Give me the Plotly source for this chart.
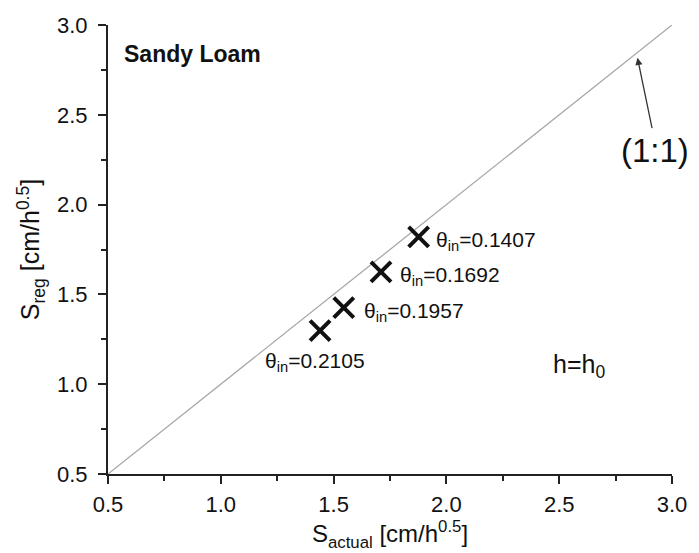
import plotly.graph_objects as go

# Sorptivity: actual vs. regression estimate, sandy loam, h = h0
s_actual = [1.877, 1.71, 1.545, 1.44]
s_reg = [1.82, 1.625, 1.426, 1.298]
theta_in = ["0.1407", "0.1692", "0.1957", "0.2105"]

# label placement (pixel offsets from each marker)
label_xshift = [15, 17, 18, -5]
label_yshift = [0, 0, 0, -27]
label_xanchor = ["left", "left", "left", "center"]

one_to_one = [0.5, 3.0]

FONT = "Liberation Sans, Arial, sans-serif"
INK = "#111111"
AXIS = "#222222"

fig = go.Figure()

fig.add_trace(go.Scatter(
    x=one_to_one, y=one_to_one, mode="lines",
    line=dict(color="#a8a8a8", width=1.3),
    hoverinfo="skip", showlegend=False,
))

fig.add_trace(go.Scatter(
    x=s_actual, y=s_reg, mode="markers",
    marker=dict(symbol="x-thin", size=20,
                line=dict(color=INK, width=4)),
    showlegend=False,
))

annotations = []
for xa, yr, th, dx, dy, anc in zip(s_actual, s_reg, theta_in,
                                    label_xshift, label_yshift, label_xanchor):
    annotations.append(dict(
        x=xa, y=yr, xref="x", yref="y", showarrow=False,
        text=f"θ<sub>in</sub>=" + th,
        xanchor=anc, yanchor="middle", xshift=dx, yshift=dy - 4,
        font=dict(family=FONT, size=21, color=INK),
    ))

# title inside the plot
annotations.append(dict(
    x=0.56, y=2.84, xref="x", yref="y", showarrow=False,
    text="<b>Sandy Loam</b>", xanchor="left", yanchor="middle",
    font=dict(family=FONT, size=23, color=INK),
))

# boundary condition
annotations.append(dict(
    x=2.465, y=1.1, xref="x", yref="y", showarrow=False,
    text="h=h<sub>0</sub>", xanchor="left", yanchor="middle",
    font=dict(family=FONT, size=25, color=INK),
))

# arrow pointing at the 1:1 line
annotations.append(dict(
    x=2.847, y=2.817, xref="x", yref="y",
    ax=2.913, ay=2.418, axref="x", ayref="y",
    showarrow=True, arrowhead=2, arrowsize=1.1, arrowwidth=1.3,
    arrowcolor="#333333", text="",
))
annotations.append(dict(
    x=2.925, y=2.30, xref="x", yref="y", showarrow=False,
    text="(1:1)", xanchor="center", yanchor="middle",
    font=dict(family=FONT, size=33, color=INK),
))

axis_common = dict(
    range=[0.5, 3.0], dtick=0.5, tick0=0.5, tickformat=".1f",
    showgrid=False, zeroline=False,
    showline=True, linecolor=AXIS, linewidth=2,
    ticks="outside", ticklen=8, tickwidth=2, tickcolor=AXIS,
    minor=dict(ticks="outside", ticklen=5, tickwidth=2,
               tickcolor=AXIS, dtick=0.25, tick0=0.5),
    tickfont=dict(family=FONT, size=22, color=INK),
)

fig.update_layout(
    width=699, height=553,
    margin=dict(l=108, r=19, t=25, b=77),
    paper_bgcolor="white", plot_bgcolor="white",
    xaxis=dict(axis_common, ticklabelstandoff=2,
               title=dict(text="S<sub>actual</sub> [cm/h<sup>0.5</sup>]",
                          font=dict(family=FONT, size=24, color=INK),
                          standoff=7)),
    yaxis=dict(axis_common, ticklabelstandoff=6,
               title=dict(text="S<sub>reg</sub> [cm/h<sup>0.5</sup>]",
                          font=dict(family=FONT, size=25, color=INK),
                          standoff=10)),
    annotations=annotations,
)

fig.write_html("out.html")
